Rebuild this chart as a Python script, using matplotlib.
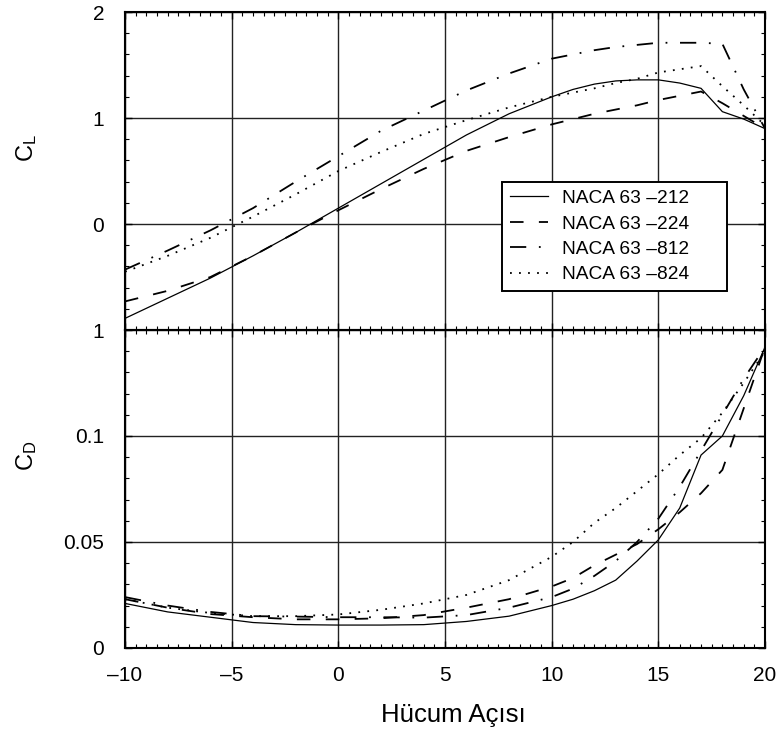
import matplotlib
matplotlib.use("Agg")
import matplotlib.pyplot as plt
from matplotlib.ticker import MultipleLocator

plt.rcParams['font.family'] = ['Liberation Sans', 'DejaVu Sans']
plt.rcParams['mathtext.default'] = 'regular'

# angle of attack (deg)
alpha = [-10, -8, -6, -4, -2, 0, 2, 4, 6, 8, 10, 11, 12, 13, 14, 15, 16, 17, 18, 19, 20]

# lift coefficient
cl_212 = [-0.89, -0.70, -0.51, -0.30, -0.08, 0.15, 0.38, 0.61, 0.84, 1.04, 1.20,
          1.27, 1.32, 1.35, 1.36, 1.36, 1.33, 1.28, 1.06, 0.99, 0.90]
cl_224 = [-0.73, -0.63, -0.50, -0.30, -0.08, 0.13, 0.33, 0.52, 0.69, 0.82, 0.94,
          0.99, 1.04, 1.08, 1.12, 1.17, 1.21, 1.25, 1.14, 1.02, 0.90]
cl_812 = [-0.43, -0.25, -0.06, 0.15, 0.40, 0.64, 0.88, 1.07, 1.26, 1.42, 1.56,
          1.60, 1.64, 1.67, 1.69, 1.71, 1.71, 1.71, 1.70, 1.27, 0.90]
cl_824 = [-0.45, -0.30, -0.13, 0.07, 0.28, 0.50, 0.68, 0.85, 0.98, 1.10, 1.20,
          1.24, 1.28, 1.33, 1.37, 1.43, 1.46, 1.49, 1.30, 1.12, 0.93]

# drag coefficient
cd_212 = [0.021, 0.017, 0.0145, 0.012, 0.011, 0.0108, 0.0108, 0.011, 0.0125, 0.015, 0.020,
          0.023, 0.027, 0.032, 0.041, 0.051, 0.066, 0.091, 0.100, 0.119, 0.142]
cd_224 = [0.023, 0.019, 0.016, 0.0145, 0.0135, 0.0135, 0.014, 0.0155, 0.019, 0.023, 0.029,
          0.033, 0.039, 0.044, 0.049, 0.056, 0.064, 0.073, 0.084, 0.113, 0.142]
cd_812 = [0.024, 0.020, 0.017, 0.015, 0.0148, 0.0145, 0.0145, 0.0143, 0.0155, 0.019, 0.024,
          0.028, 0.034, 0.041, 0.050, 0.061, 0.076, 0.093, 0.110, 0.127, 0.142]
cd_824 = [0.023, 0.019, 0.0165, 0.015, 0.015, 0.0158, 0.018, 0.021, 0.025, 0.032, 0.043,
          0.050, 0.059, 0.066, 0.074, 0.082, 0.091, 0.099, 0.111, 0.125, 0.140]

labels = ['NACA 63 \u2013212', 'NACA 63 \u2013224', 'NACA 63 \u2013812', 'NACA 63 \u2013824']
x_ticks = [-10, -5, 0, 5, 10, 15, 20]
x_ticklabels = ['\u201310', '\u20135', '0', '5', '10', '15', '20']

# line styles for the four sections
styles = [
    dict(linestyle='-', linewidth=0.9),
    dict(linestyle=(0, (7.5, 8.5)), linewidth=1.3),
    dict(linestyle=(0, (9, 7, 1, 7)), linewidth=1.3),
    dict(linestyle=(0, (1, 4)), linewidth=1.3),
]

fig = plt.figure(figsize=(7.79, 7.38), dpi=100)
ax1 = fig.add_axes([0.1605, 0.5528, 0.8216, 0.4309])
ax2 = fig.add_axes([0.1605, 0.1220, 0.8216, 0.4309])

for ys, st, lab in zip([cl_212, cl_224, cl_812, cl_824], styles, labels):
    ax1.plot(alpha, ys, color='black', label=lab, **st)
for ys, st in zip([cd_212, cd_224, cd_812, cd_824], styles):
    ax2.plot(alpha, ys, color='black', **st)

# axes formatting
for ax in (ax1, ax2):
    ax.set_xlim(-10, 20)
    ax.set_xticks(x_ticks)
    ax.xaxis.set_minor_locator(MultipleLocator(0.5))
    ax.grid(True, which='major', color='#222222', linewidth=1.0)
    ax.tick_params(which='both', direction='in', top=True, right=True, labelsize=15)
    ax.tick_params(which='major', length=5, width=1.0)
    ax.tick_params(which='minor', length=3, width=0.8)
    ax.tick_params(axis='y', pad=15)
    ax.tick_params(axis='x', pad=13)
    for s in ax.spines.values():
        s.set_linewidth(1.5)

ax1.set_ylim(-1, 2)
ax1.set_yticks([-1, 0, 1, 2])
ax1.set_yticklabels(['1', '0', '1', '2'])
ax1.yaxis.set_minor_locator(MultipleLocator(0.2))
ax1.tick_params(axis='x', labelbottom=False)

ax2.set_ylim(0, 0.15)
ax2.set_yticks([0, 0.05, 0.1, 0.15])
ax2.set_yticklabels(['0', '0.05', '0.1', ''])
ax2.yaxis.set_minor_locator(MultipleLocator(0.01))
ax2.set_xticklabels(x_ticklabels)

fig.text(27 / 779, 1 - 148 / 738, '$C_L$', rotation=90, fontsize=17, ha='center', va='center')
fig.text(27 / 779, 1 - 456 / 738, '$C_D$', rotation=90, fontsize=17, ha='center', va='center')
fig.text(453 / 779, 1 - 715 / 738, 'Hücum Açısı', fontsize=18.5, ha='center', va='center')

# legend box spans x 502..727 px, top at y 182 px
leg = ax1.legend(loc='upper left',
                 bbox_to_anchor=(502 / 779, 1 - 299 / 738, 225 / 779, 117 / 738),
                 bbox_transform=fig.transFigure, mode='expand', borderaxespad=0,
                 fontsize=13.8, fancybox=False, framealpha=1, edgecolor='black',
                 handlelength=2.0, handletextpad=0.75, labelspacing=0.42)
leg.get_frame().set_linewidth(1.4)

fig.savefig('out.png', dpi=100)
